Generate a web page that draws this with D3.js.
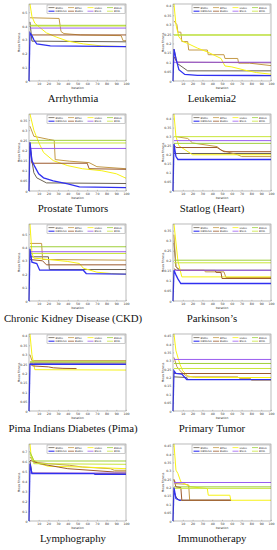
<!DOCTYPE html>
<html>
<head>
<meta charset="utf-8">
<script src="https://cdn.jsdelivr.net/npm/d3@7"></script>
<style>
  body { margin: 0; background: #fff; }
  svg { display: block; }
</style>
</head>
<body>
<svg id="container"></svg>
<script>
// algorithms, in legend order
const algorithms = ['BSMO', 'BPSO', 'HGSO', 'BWOA', 'DBMOSA', 'BGWO', 'BSCA', 'BFFA'];
const colors = ['#6b6253', '#c49a48', '#f7f214', '#9fcf3a', '#3030f0', '#9c5a2e', '#9a5cf0', '#c9e63a'];

const titles = ['Arrhythmia', 'Leukemia2', 'Prostate Tumors', 'Statlog (Heart)',
    'Chronic Kidney Disease (CKD)', 'Parkinson\u2019s', 'Pima Indians Diabetes (Pima)',
    'Primary Tumor', 'Lymphography', 'Immunotherapy'];
const yMax = [0.56, 0.41, 0.38, 0.425, 0.575, 0.383, 0.41, 0.46, 0.77, 0.46];
const yStep = [0.1, 0.05, 0.05, 0.05, 0.1, 0.05, 0.05, 0.05, 0.1, 0.05];
const xTicks = [10, 20, 30, 40, 50, 60, 70, 80, 90, 100];

// mean fitness per iteration: [iteration, value] break points, series in algorithm order
const arrhythmia = [
    [[1, 0.43], [3, 0.29], [100, 0.285]],
    [[1, 0.46], [31, 0.455], [33, 0.36], [36, 0.345], [53, 0.335], [95, 0.33], [97, 0.293], [100, 0.293]],
    [[1, 0.56], [3, 0.47], [6, 0.42], [11, 0.39], [18, 0.35], [28, 0.32], [40, 0.29], [56, 0.27], [75, 0.255], [100, 0.25]],
    [[1, 0.405], [100, 0.405]],
    [[0, 0], [1, 0.35], [3, 0.33], [5, 0.3], [8, 0.27], [22, 0.255], [100, 0.25]],
    [[1, 0.335], [100, 0.335]],
    [[1, 0.385], [100, 0.385]],
    [[1, 0.4], [100, 0.4]]
];
const leukemia2 = [
    [[1, 0.17], [4, 0.095], [15, 0.054], [100, 0.054]],
    [[1, 0.32], [4, 0.3], [5, 0.26], [8, 0.26], [9, 0.21], [15, 0.21], [16, 0.165], [35, 0.165], [36, 0.14], [52, 0.14], [53, 0.12], [66, 0.12], [67, 0.095], [78, 0.095], [100, 0.082]],
    [[1, 0.41], [3, 0.3], [6, 0.235], [10, 0.21], [15, 0.2], [25, 0.175], [35, 0.155], [45, 0.13], [49, 0.12], [53, 0.08], [60, 0.075], [73, 0.058], [85, 0.045], [100, 0.036]],
    [[1, 0.245], [100, 0.245]],
    [[0, 0], [1, 0.17], [3, 0.12], [6, 0.06], [12, 0.035], [25, 0.03], [100, 0.029]],
    [[1, 0.13], [4, 0.1], [100, 0.097]],
    [[1, 0.1], [100, 0.1]],
    [[1, 0.245], [100, 0.245]]
];
const prostate = [
    [[1, 0.24], [3, 0.15], [5, 0.09], [8, 0.065], [18, 0.04], [100, 0.037]],
    [[1, 0.32], [5, 0.27], [20, 0.255], [26, 0.25], [27, 0.155], [42, 0.147], [62, 0.14], [70, 0.12], [100, 0.11]],
    [[1, 0.38], [5, 0.3], [10, 0.24], [15, 0.19], [25, 0.15], [40, 0.125], [55, 0.11], [75, 0.1], [90, 0.085], [100, 0.063]],
    [[1, 0.25], [100, 0.25]],
    [[0, 0], [1, 0.24], [3, 0.15], [6, 0.12], [10, 0.085], [15, 0.065], [25, 0.05], [40, 0.035], [52, 0.02], [100, 0.017]],
    [[1, 0.22], [3, 0.137], [60, 0.137], [62, 0.11], [100, 0.107]],
    [[1, 0.21], [100, 0.21]],
    [[1, 0.237], [100, 0.237]]
];
const statlog = [
    [[1, 0.207], [100, 0.207]],
    [[3, 0.3], [15, 0.29], [20, 0.265], [45, 0.245], [49, 0.225], [56, 0.215], [66, 0.2], [70, 0.19], [100, 0.19]],
    [[1, 0.425], [3, 0.3], [6, 0.25], [20, 0.2], [100, 0.2]],
    [[1, 0.263], [100, 0.263]],
    [[0, 0], [1, 0.26], [3, 0.19], [5, 0.174], [100, 0.174]],
    [[1, 0.255], [3, 0.24], [45, 0.24], [52, 0.217], [100, 0.217]],
    [[1, 0.278], [100, 0.278]],
    [[1, 0.3], [100, 0.3]]
];
const ckd = [
    [[1, 0.33], [20, 0.33], [21, 0.235], [100, 0.235]],
    [[1, 0.43], [13, 0.43], [14, 0.31], [100, 0.305]],
    [[1, 0.575], [3, 0.36], [5, 0.32], [20, 0.31], [40, 0.295], [52, 0.28], [56, 0.245], [70, 0.215], [85, 0.205], [100, 0.2]],
    [[1, 0.405], [100, 0.405]],
    [[0, 0], [1, 0.39], [3, 0.29], [8, 0.28], [11, 0.23], [56, 0.23], [59, 0.205], [100, 0.2]],
    [[1, 0.31], [14, 0.3], [18, 0.27], [100, 0.27]],
    [[1, 0.368], [100, 0.368]],
    [[1, 0.355], [100, 0.355]]
];
const parkinsons = [
    [[1, 0.29], [3, 0.17], [6, 0.153], [100, 0.153]],
    [[1, 0.33], [3, 0.17], [8, 0.153], [32, 0.153], [33, 0.145], [52, 0.145], [54, 0.117], [100, 0.117]],
    [[1, 0.383], [5, 0.2], [9, 0.12], [100, 0.12]],
    [[1, 0.203], [100, 0.203]],
    [[0, 0], [1, 0.153], [3, 0.13], [5, 0.11], [8, 0.087], [100, 0.087]],
    [[1, 0.16], [4, 0.152], [43, 0.152], [44, 0.142], [49, 0.142], [50, 0.112], [100, 0.112]],
    [[1, 0.153], [100, 0.153]],
    [[1, 0.19], [100, 0.19]]
];
const pima = [
    [[1, 0.255], [100, 0.255]],
    [[1, 0.3], [3, 0.268], [100, 0.268]],
    [[1, 0.41], [3, 0.3], [6, 0.22], [100, 0.218]],
    [[1, 0.262], [100, 0.262]],
    [[0, 0], [1, 0.25], [100, 0.248]],
    [[1, 0.25], [4, 0.24], [20, 0.235], [25, 0.23], [35, 0.227], [49, 0.226]],
    [[1, 0.257], [100, 0.257]],
    [[1, 0.26], [100, 0.26]]
];
const primaryTumor = [
    [[1, 0.204], [14, 0.2], [15, 0.188], [100, 0.188]],
    [[1, 0.32], [4, 0.265], [8, 0.235], [15, 0.204], [66, 0.204], [68, 0.195], [79, 0.195], [80, 0.184], [100, 0.184]],
    [[1, 0.46], [3, 0.36], [7, 0.28], [10, 0.24], [15, 0.21], [22, 0.2], [100, 0.2]],
    [[1, 0.284], [100, 0.284]],
    [[0, 0], [1, 0.24], [3, 0.225], [9, 0.22], [14, 0.188], [100, 0.188]],
    [[1, 0.224], [100, 0.224]],
    [[1, 0.308], [100, 0.308]],
    [[1, 0.254], [100, 0.254]]
];
const lymphography = [
    [[1, 0.6], [3, 0.48], [100, 0.473]],
    [[1, 0.64], [5, 0.59], [20, 0.573], [42, 0.557], [55, 0.54], [84, 0.523], [88, 0.507], [100, 0.507]],
    [[1, 0.77], [2, 0.67], [5, 0.607], [11, 0.573], [20, 0.547], [55, 0.54], [100, 0.523]],
    [[1, 0.69], [5, 0.6], [100, 0.6]],
    [[0, 0], [1, 0.573], [3, 0.473], [67, 0.473], [68, 0.467], [100, 0.467]],
    [[1, 0.607], [11, 0.573], [30, 0.54], [40, 0.523], [88, 0.49], [100, 0.49]],
    [[1, 0.48], [100, 0.48]],
    [[1, 0.673], [5, 0.573], [100, 0.567]]
];
const immunotherapy = [
    [[1, 0.18], [3, 0.144], [6, 0.124], [59, 0.124]],
    [[1, 0.25], [3, 0.223], [12, 0.22], [16, 0.215], [17, 0.124], [59, 0.124]],
    [[1, 0.46], [3, 0.304], [5, 0.284], [8, 0.234], [18, 0.204], [35, 0.194], [36, 0.154], [58, 0.154], [59, 0.124], [100, 0.124]],
    [[1, 0.204], [100, 0.204]],
    [[0, 0], [1, 0.2], [3, 0.134], [7, 0.124], [8, 0.124]],
    [[1, 0.244], [3, 0.204], [8, 0.2], [9, 0.124], [59, 0.124]],
    [[1, 0.23], [100, 0.23]],
    [[1, 0.195], [100, 0.195]]
];
const datasets = [arrhythmia, leukemia2, prostate, statlog, ckd, parkinsons, pima, primaryTumor, lymphography, immunotherapy];

const width = 277;
const height = 550;
const svg = d3.select('#container').attr('width', width).attr('height', height);

// per column plot box and title centre
const cols = [
    { left: 29, right: 126, title: 73 },
    { left: 35, right: 133, title: 74 }
];
const rowH = 110;
const plotTop = 4, plotBottom = 81;
const drawOrder = [0, 1, 2, 3, 5, 6, 7, 4];

datasets.forEach(function(series, i) {
    const c = cols[i % 2];
    const g = svg.append('g')
        .attr('transform', `translate(${(i % 2) * 138},${Math.floor(i / 2) * rowH})`);

    const x = d3.scaleLinear().domain([0, 100]).range([c.left, c.right]);
    const y = d3.scaleLinear().domain([0, yMax[i]]).range([plotBottom, plotTop]);

    g.append('rect')
        .attr('x', c.left).attr('y', plotTop)
        .attr('width', c.right - c.left).attr('height', plotBottom - plotTop)
        .attr('fill', '#fff');

    const yt = d3.range(0, yMax[i] + 1e-9, yStep[i]).map(v => +v.toFixed(2));

    const xAxis = g.append('g')
        .attr('transform', `translate(0,${plotBottom})`)
        .call(d3.axisBottom(x).tickValues(xTicks).tickSize(-1.2).tickPadding(1.6));
    const yAxis = g.append('g')
        .attr('transform', `translate(${c.left},0)`)
        .call(d3.axisLeft(y).tickValues(yt).tickSize(-1.2).tickPadding(1.6).tickFormat(d3.format('')));
    [xAxis, yAxis].forEach(a => {
        a.select('.domain').remove();
        a.selectAll('line').attr('stroke', '#555').attr('stroke-width', 0.3);
        a.selectAll('text').attr('font-size', 3.2).attr('font-family', 'DejaVu Sans').attr('fill', '#333');
    });

    g.append('text')
        .attr('x', (c.left + c.right) / 2).attr('y', plotBottom + 7.5)
        .attr('text-anchor', 'middle')
        .attr('font-size', 3).attr('font-family', 'DejaVu Sans').attr('fill', '#333')
        .text('Iteration');
    g.append('text')
        .attr('transform', `translate(${c.left - 9},${(plotTop + plotBottom) / 2}) rotate(-90)`)
        .attr('text-anchor', 'middle')
        .attr('font-size', 3).attr('font-family', 'DejaVu Sans').attr('fill', '#333')
        .text('Mean Fitness');

    const line = d3.line().x(d => x(d[0])).y(d => y(d[1]));
    drawOrder.forEach(function(k) {
        g.append('path')
            .attr('d', line(series[k]))
            .attr('fill', 'none')
            .attr('stroke', colors[k])
            .attr('stroke-width', k === 4 ? 1.3 : 1);
    });

    g.append('rect')
        .attr('x', c.left).attr('y', plotTop)
        .attr('width', c.right - c.left).attr('height', plotBottom - plotTop)
        .attr('fill', 'none').attr('stroke', '#555').attr('stroke-width', 0.4);

    // legend
    const lw = 78, lh = 8.5;
    const lg = g.append('g').attr('transform', `translate(${c.right - lw - 1},${plotTop + 1})`);
    lg.append('rect').attr('width', lw).attr('height', lh)
        .attr('fill', '#fff').attr('stroke', '#555').attr('stroke-width', 0.3);
    algorithms.forEach(function(name, k) {
        const lx = 1.5 + (k % 4) * 19.5;
        const ly = 2.6 + Math.floor(k / 4) * 3.6;
        lg.append('line')
            .attr('x1', lx).attr('x2', lx + 6)
            .attr('y1', ly).attr('y2', ly)
            .attr('stroke', colors[k]).attr('stroke-width', k === 4 ? 1.1 : 0.8);
        lg.append('text')
            .attr('x', lx + 7).attr('y', ly + 0.9)
            .attr('font-size', 2.5).attr('font-family', 'DejaVu Sans').attr('fill', '#333')
            .text(name);
    });

    g.append('text')
        .attr('x', c.title).attr('y', 102)
        .attr('text-anchor', 'middle')
        .attr('font-size', 10.8).attr('font-family', 'Liberation Serif').attr('fill', '#111')
        .text(titles[i]);
});
</script>
</body>
</html>
